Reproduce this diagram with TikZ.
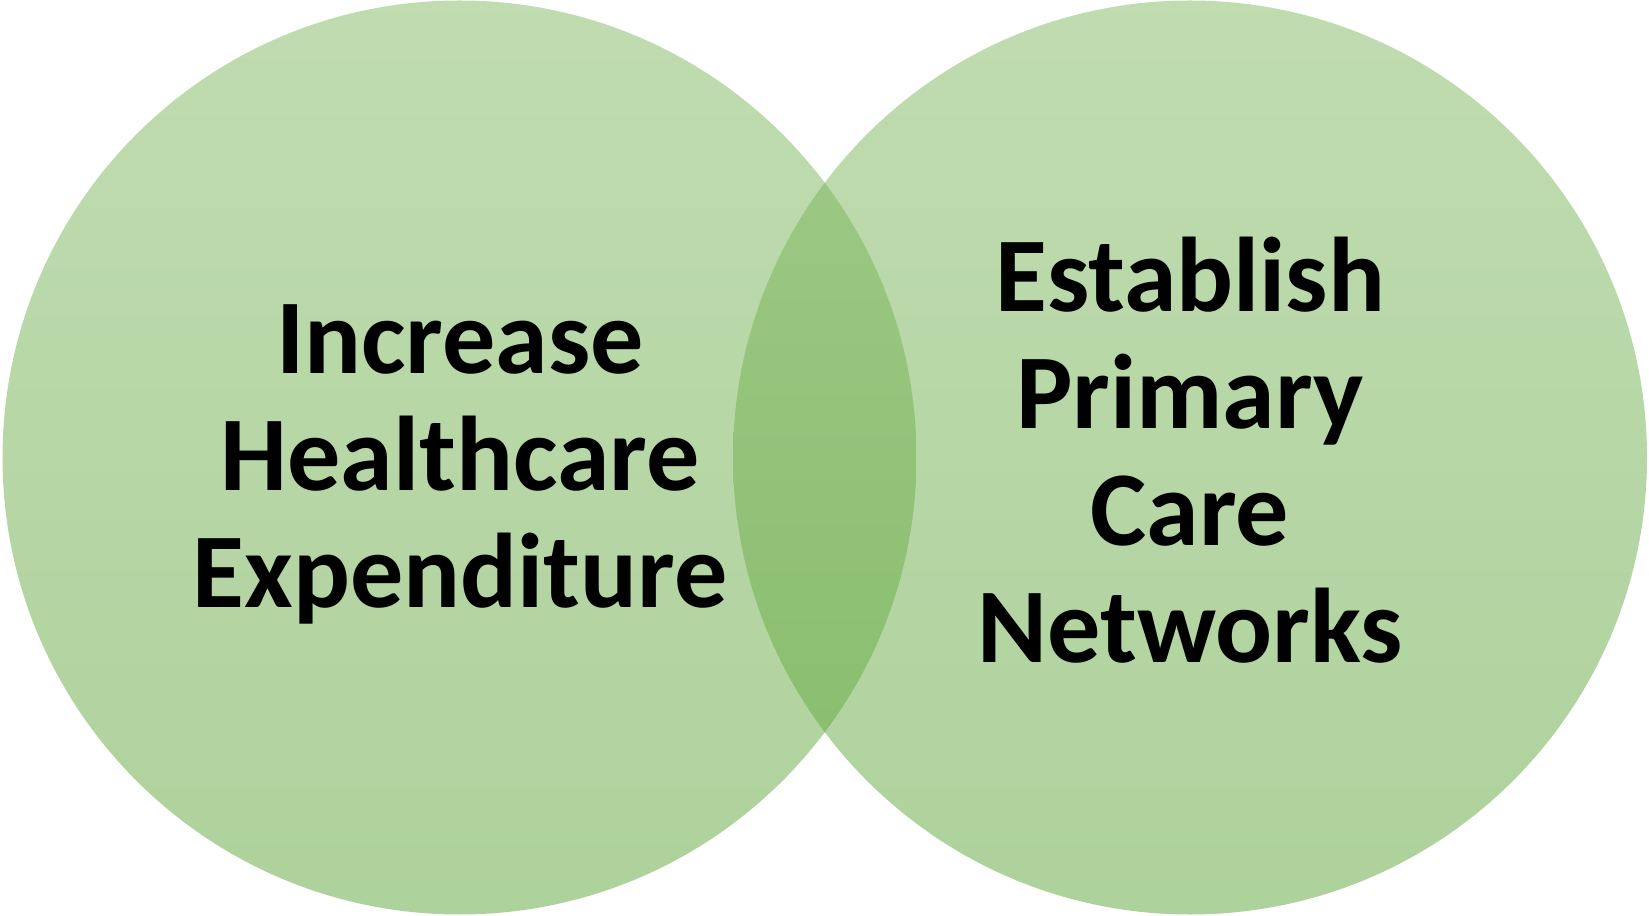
\documentclass[tikz,border=0pt]{standalone}
\usepackage{fontspec}
\setmainfont{Carlito}
\definecolor{settop}{RGB}{129,185,97}
\definecolor{setbot}{RGB}{93,165,57}
\begin{document}
\begin{tikzpicture}[
  set/.style={circle, draw=none, inner sep=0pt, minimum size=9.14cm,
    top color=settop, bottom color=setbot, fill opacity=0.5},
  lbl/.style={align=center, inner sep=0pt, font=\fontsize{30.2}{33.3}\selectfont\bfseries}
]
\useasboundingbox (0,0) rectangle (16.49,9.15);
\node[set] (hc) at (4.595,4.575) {};
\node[set] (pc) at (11.90,4.575) {};
\node[lbl] (hctext) at (4.60,4.51) {Increase\\Healthcare\\Expenditure};
\node[lbl] (pctext) at (11.90,4.645) {Establish\\Primary\\Care\\Networks};
\end{tikzpicture}
\end{document}
